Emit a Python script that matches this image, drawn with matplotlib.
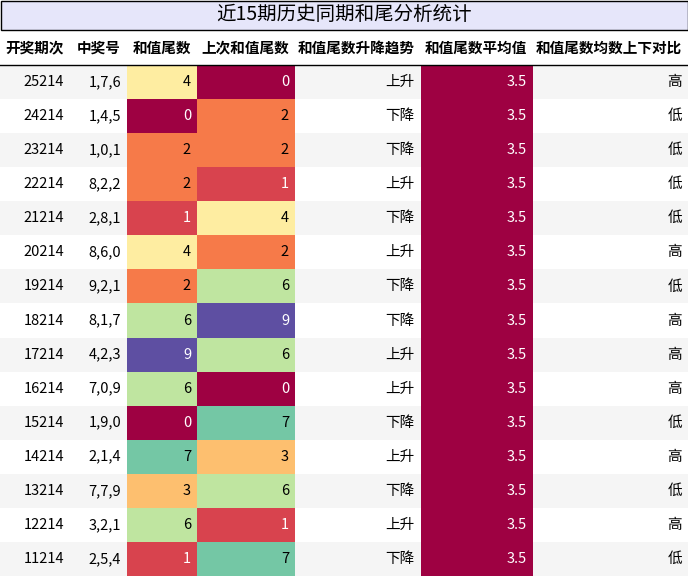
import matplotlib
matplotlib.use("Agg")
import matplotlib.pyplot as plt
from matplotlib.patches import Rectangle

plt.rcParams['font.family'] = ['Noto Sans CJK SC', 'DejaVu Sans']

title = "近15期历史同期和尾分析统计"
headers = ["开奖期次", "中奖号", "和值尾数", "上次和值尾数", "和值尾数升降趋势", "和值尾数平均值", "和值尾数均数上下对比"]
periods = ["25214", "24214", "23214", "22214", "21214", "20214", "19214", "18214",
           "17214", "16214", "15214", "14214", "13214", "12214", "11214"]
numbers = ["1,7,6", "1,4,5", "1,0,1", "8,2,2", "2,8,1", "8,6,0", "9,2,1", "8,1,7",
           "4,2,3", "7,0,9", "1,9,0", "2,1,4", "7,7,9", "3,2,1", "2,5,4"]
tail = [4, 0, 2, 2, 1, 4, 2, 6, 9, 6, 0, 7, 3, 6, 1]
prev_tail = [0, 2, 2, 1, 4, 2, 6, 9, 6, 0, 7, 3, 6, 1, 7]
trend = ["上升", "下降", "下降", "上升", "下降", "上升", "下降", "下降",
         "上升", "上升", "下降", "上升", "下降", "上升", "下降"]
avg = [3.5] * 15
compare = ["高", "低", "低", "低", "低", "高", "低", "高", "高", "高", "低", "高", "低", "高", "低"]

W, H = 688, 576
col_x = [0, 70, 127, 197, 295, 421, 533, 688]
title_h = 30
head_h = 35
row_h = (H - title_h - head_h) / len(periods)

fig = plt.figure(figsize=(W / 100, H / 100), dpi=100)
ax = fig.add_axes([0, 0, 1, 1])
ax.set_xlim(0, W)
ax.set_ylim(H, 0)
ax.axis('off')

cmap = plt.get_cmap('Spectral')

ax.add_patch(Rectangle((0.5, 0.5), W - 1, title_h - 1, facecolor='#e6e6fa', edgecolor='black', lw=1))
ax.text(W / 2, title_h / 2, title, ha='center', va='center', fontsize=14)

for i, h in enumerate(headers):
    ax.text(col_x[i + 1] - 6 if i else 35, title_h + head_h / 2, h,
            ha='right' if i else 'center', va='center', fontsize=10.5, fontweight='bold')
ax.plot([0, W], [title_h + head_h, title_h + head_h], color='black', lw=1)


def txtcolor(v):
    return 'white' if v <= 1 or v >= 8 else 'black'


for r in range(len(periods)):
    y0 = title_h + head_h + r * row_h
    yc = y0 + row_h / 2
    bg = '#f5f5f5' if r % 2 == 0 else 'white'
    ax.add_patch(Rectangle((0, y0), W, row_h, facecolor=bg, edgecolor='none'))
    for c, v in [(2, tail[r]), (3, prev_tail[r])]:
        ax.add_patch(Rectangle((col_x[c], y0), col_x[c + 1] - col_x[c], row_h,
                               facecolor=cmap(v / 9), edgecolor='none'))
    ax.add_patch(Rectangle((col_x[5], y0), col_x[6] - col_x[5], row_h,
                           facecolor=cmap(0.0), edgecolor='none'))
    vals = [periods[r], numbers[r], str(tail[r]), str(prev_tail[r]), trend[r], str(avg[r]), compare[r]]
    colors = ['black', 'black', txtcolor(tail[r]), txtcolor(prev_tail[r]), 'black', 'white', 'black']
    for c in range(7):
        ax.text(col_x[c + 1] - 6, yc, vals[c], ha='right', va='center', fontsize=10.5, color=colors[c])

fig.savefig("out.png", dpi=100)
